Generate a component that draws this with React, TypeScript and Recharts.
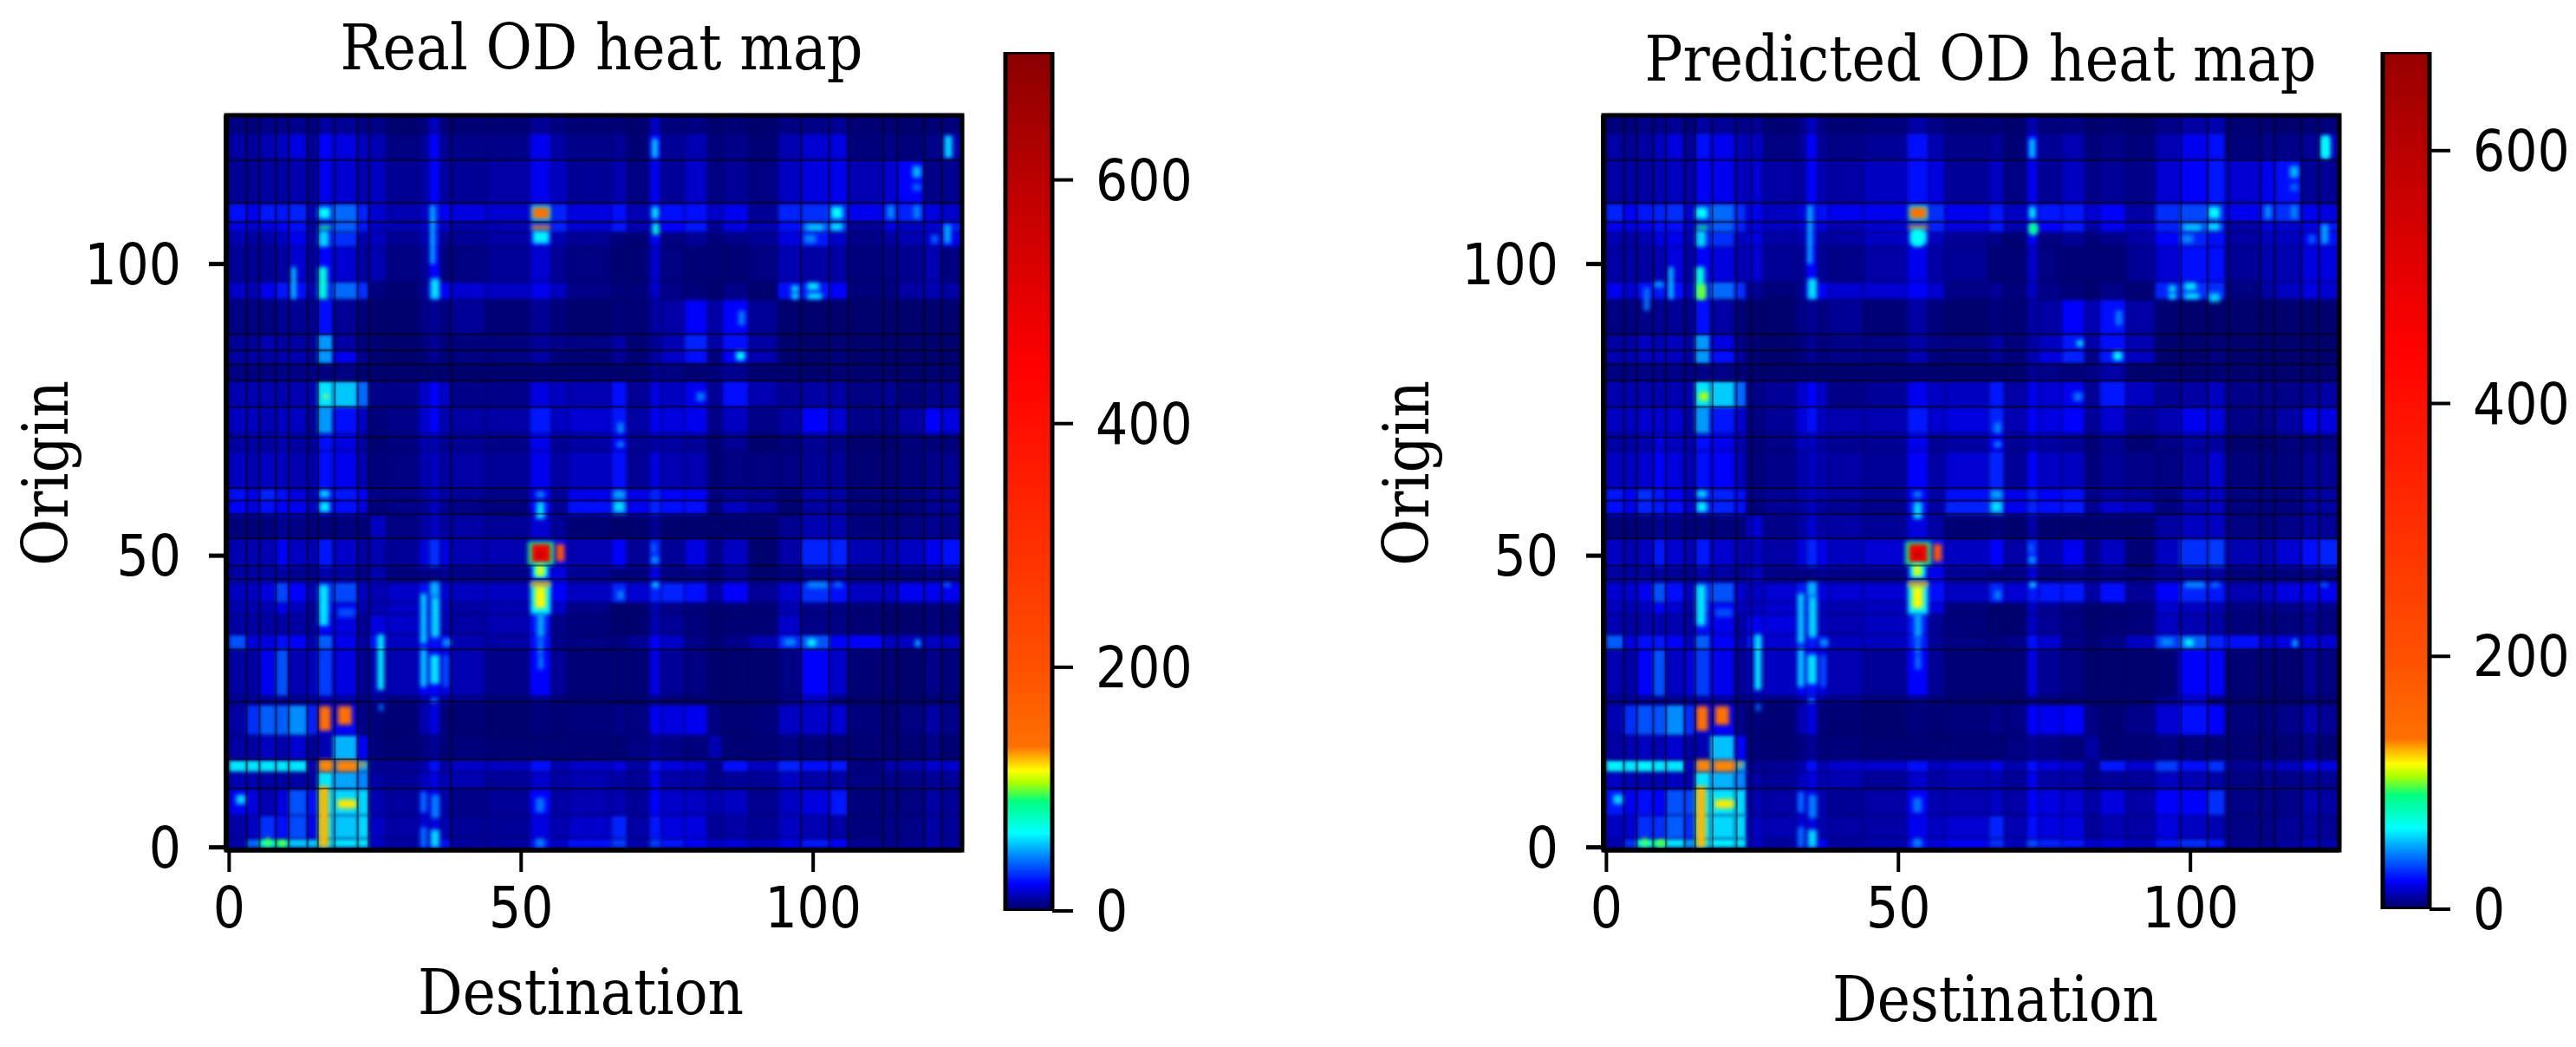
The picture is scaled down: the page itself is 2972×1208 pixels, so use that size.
import React from "react";
import { ComposedChart, BarChart, Bar, XAxis, YAxis, ReferenceArea, ReferenceLine } from "recharts";

const columnEdges = [0, 3, 5.2, 8, 10.2, 13.4, 15.2, 17.8, 22, 24, 27, 32.5, 34.2, 36.2, 38, 44, 51.5, 55.2, 58, 65.5, 68.2, 72, 74, 78, 82, 84.5, 89, 94, 98, 103, 106, 112, 114.5, 119, 122, 125.5];
const rowEdges = [0, 1.5, 5.5, 10, 13, 15, 19.3, 24.5, 26, 34, 36.5, 40, 42, 45.5, 48, 53, 57, 59.5, 61.5, 68, 71, 75.5, 80, 83, 85.2, 88, 94, 97, 103, 105.5, 107.3, 110.4, 118, 122.5, 125.5];

// one row per band, bottom to top
const realGrid = [
  [12,40,75,85,55,55,60,60,60,15,10,18,20,25,10,10,25,15,25,32,12,32,26,22,16,18,14,20,26,22,8,7,8,12,10],
  [10,14,30,25,35,20,60,55,58,14,10,16,18,12,8,8,18,12,15,28,10,26,18,18,8,10,8,14,12,10,4,6,6,10,8],
  [20,18,12,18,36,24,60,58,58,12,9,18,20,10,6,8,22,10,12,12,8,22,15,14,12,14,7,14,18,26,4,5,5,10,8],
  [12,12,10,10,10,10,60,50,45,10,8,14,18,12,12,8,15,10,12,10,8,20,10,10,6,8,8,14,10,10,5,6,6,8,8],
  [60,60,60,60,60,12,40,40,50,8,8,12,24,10,15,14,25,12,15,18,10,25,18,16,6,25,14,28,24,26,5,12,12,16,16],
  [10,10,14,12,16,8,12,52,22,4,3,5,8,4,4,3,3,3,3,3,5,8,6,4,12,3,3,5,4,3,3,3,3,6,3],
  [10,30,38,38,46,28,20,22,6,4,3,12,18,4,3,2,4,3,4,6,5,20,18,20,5,3,4,14,15,16,4,2,5,10,6],
  [8,8,8,8,8,8,12,10,5,8,5,10,18,8,6,3,6,3,3,2,2,6,3,2,2,2,2,6,14,5,2,2,2,3,3],
  [10,10,20,36,12,14,32,18,8,12,12,22,22,18,12,6,22,8,3,3,3,18,8,5,2,2,2,5,22,15,3,3,2,6,4],
  [36,18,18,25,22,12,38,20,10,24,14,26,24,24,12,10,25,6,5,5,8,22,15,6,3,6,12,28,36,22,22,14,14,14,14],
  [10,10,10,10,10,8,22,18,8,18,15,22,24,12,10,12,24,6,4,2,2,12,8,4,2,3,3,15,6,6,3,2,2,4,3],
  [12,12,12,20,14,8,26,20,12,12,15,22,24,14,10,12,30,15,6,2,2,12,6,4,2,3,3,12,6,6,3,2,2,4,3],
  [14,14,18,34,22,12,28,34,14,12,15,24,24,16,14,14,35,22,14,28,16,28,28,25,10,22,8,16,30,25,14,14,20,20,20],
  [10,10,10,10,8,6,12,10,6,12,4,6,6,8,6,6,22,18,8,4,4,18,5,5,3,8,2,4,8,10,4,4,4,6,6],
  [12,12,12,22,14,12,26,15,10,12,8,18,30,18,12,12,22,22,12,22,8,28,8,18,6,14,2,10,28,28,12,12,14,20,25],
  [4,4,4,8,6,4,4,4,4,14,5,10,14,10,10,8,16,8,3,2,2,8,2,2,2,2,2,7,12,12,4,4,5,7,6],
  [22,18,25,22,20,14,24,24,18,4,6,8,14,8,6,4,22,8,25,38,20,28,25,25,5,14,10,3,10,10,4,4,4,8,8],
  [25,20,28,24,18,12,24,26,22,6,6,10,15,10,8,6,20,8,20,36,20,28,22,22,5,8,7,3,12,10,4,4,4,8,8],
  [14,12,14,14,12,10,24,20,12,4,5,12,14,10,10,8,20,10,14,25,8,18,12,12,3,5,5,5,8,8,3,3,4,6,7],
  [10,10,10,12,10,8,24,18,10,3,5,12,12,8,8,6,20,8,10,22,8,10,10,8,3,8,2,4,8,6,2,2,4,4,4],
  [14,14,12,14,14,8,48,24,14,4,6,16,22,12,10,10,26,14,16,26,10,20,18,20,6,14,6,10,22,16,6,6,10,22,18],
  [12,12,12,12,12,12,60,55,40,6,6,15,22,15,6,6,18,14,12,25,8,18,14,20,8,25,12,8,10,10,5,8,4,6,7],
  [5,5,5,6,6,5,5,5,3,2,2,2,2,2,2,2,3,2,2,2,2,6,5,3,4,7,2,2,2,3,2,2,2,2,3],
  [10,10,10,12,12,8,48,20,8,3,2,3,8,4,5,5,10,4,3,8,3,10,15,25,4,22,12,2,2,5,2,2,2,2,2],
  [8,8,12,10,10,8,48,10,5,3,2,4,8,4,4,4,8,6,5,10,3,8,12,28,10,24,10,2,2,3,2,2,2,2,2],
  [5,5,5,8,8,6,24,8,4,2,2,6,8,5,8,3,8,4,2,4,3,10,10,22,10,22,8,2,2,2,2,2,2,2,2],
  [15,12,20,26,24,12,28,40,30,5,3,8,24,22,16,14,20,14,6,4,4,15,6,4,2,6,2,24,26,22,4,5,10,12,10],
  [8,8,8,10,16,8,22,16,10,12,5,8,22,5,5,8,16,8,5,3,3,15,5,3,3,3,5,12,10,10,4,6,7,12,5],
  [12,10,10,14,20,10,28,30,12,14,8,12,24,8,8,10,22,12,8,4,3,20,5,8,4,6,8,18,26,15,6,10,12,16,20],
  [18,16,18,22,24,10,28,38,26,14,12,15,26,15,10,12,30,28,16,26,12,24,22,26,8,18,12,25,34,30,8,18,14,16,26],
  [25,20,26,26,28,12,28,40,28,16,12,15,28,22,18,16,35,28,18,25,12,24,24,25,15,20,8,28,30,30,20,28,28,18,15],
  [8,8,10,10,12,8,20,16,12,14,8,10,22,10,8,10,20,14,8,12,5,20,8,15,5,8,5,14,18,20,12,16,22,6,7],
  [10,9,12,14,18,8,22,18,14,12,5,8,22,8,6,6,20,10,6,8,3,22,8,12,4,6,3,12,16,18,4,6,4,6,12],
  [5,4,6,6,7,4,10,8,6,6,2,4,14,4,3,3,8,5,3,3,2,14,4,5,2,3,2,5,6,8,3,3,2,3,4],
];

const predictedGrid = [
  [12,30,72,78,60,48,60,62,60,15,10,18,20,22,10,12,25,18,22,30,14,34,28,26,16,18,14,26,30,26,8,8,10,14,12],
  [14,16,30,30,38,30,62,58,58,14,12,16,18,12,10,10,20,14,16,28,12,24,18,18,8,12,10,18,14,12,6,6,8,10,8],
  [26,20,24,22,36,34,62,60,58,12,10,18,20,12,8,10,22,12,12,14,10,22,18,16,10,18,10,22,22,30,6,6,6,12,10],
  [14,12,12,12,14,12,60,52,45,10,8,14,18,12,12,8,15,10,12,12,8,20,10,10,6,8,8,14,12,10,5,6,6,8,8],
  [62,60,62,60,60,14,40,40,50,8,8,12,24,12,16,16,25,14,16,20,12,24,18,16,6,26,16,32,24,30,8,12,14,20,18],
  [10,12,14,12,16,10,12,54,22,4,3,5,8,4,4,3,3,3,3,3,5,8,6,4,10,3,3,5,4,3,3,3,3,6,3],
  [12,30,36,36,46,30,20,22,6,4,3,12,18,4,3,2,4,3,4,6,5,22,20,22,5,3,6,16,24,22,4,4,6,12,8],
  [8,8,8,8,8,8,12,10,5,8,5,10,18,8,6,3,6,3,3,2,2,6,3,2,2,2,2,8,16,5,2,2,2,4,3],
  [12,10,22,36,14,18,32,20,8,14,14,22,24,18,12,8,22,8,3,3,3,18,8,5,2,2,2,3,22,22,3,3,2,8,5],
  [38,18,24,26,22,14,38,22,12,26,16,28,26,24,14,14,26,8,5,5,6,24,16,6,3,6,14,32,38,28,24,16,18,18,16],
  [12,10,12,12,12,10,24,20,10,20,18,24,26,14,12,14,26,8,4,2,2,14,8,5,2,3,4,14,12,10,4,4,4,8,5],
  [14,12,14,22,16,10,28,22,14,14,16,24,26,14,12,14,30,18,4,2,2,14,8,5,2,3,4,16,14,12,5,6,6,10,6],
  [16,16,20,36,24,14,30,36,16,14,16,26,26,18,16,16,35,24,14,28,16,26,26,26,10,24,8,22,28,26,12,14,18,20,20],
  [10,10,10,10,8,6,12,10,8,14,6,6,6,8,6,6,24,20,8,6,6,16,5,6,4,6,4,8,10,10,4,4,4,6,6],
  [14,12,14,26,16,12,26,16,12,14,10,18,28,20,14,16,24,24,14,22,10,28,12,20,6,14,3,14,30,32,12,12,16,24,28],
  [4,4,4,8,6,4,4,4,4,16,6,10,16,10,10,8,18,10,3,4,2,10,2,2,2,2,2,10,14,14,5,4,6,10,8],
  [24,20,28,26,24,16,26,28,24,5,8,10,14,10,8,6,24,10,28,40,20,28,24,26,8,16,14,5,12,14,5,5,5,10,10],
  [26,22,30,26,22,14,26,28,24,6,8,12,14,12,10,8,22,10,24,36,20,28,22,24,6,10,8,5,14,14,5,5,5,10,10],
  [14,14,16,22,18,12,24,22,14,4,6,12,14,12,10,8,22,10,16,28,8,22,14,14,4,8,6,5,10,16,4,4,4,8,8],
  [10,10,12,18,14,10,24,20,12,4,6,14,14,10,8,8,20,8,10,22,8,12,10,8,3,8,3,6,10,10,2,2,4,5,6],
  [14,14,16,16,16,10,48,26,16,5,8,18,24,14,12,12,26,16,18,28,12,22,18,22,8,16,8,12,20,18,6,6,10,20,18],
  [12,12,12,12,12,12,60,56,40,6,8,16,22,15,6,8,20,14,14,26,10,20,16,20,8,26,14,8,10,14,6,6,6,8,10],
  [5,5,6,6,6,5,6,6,3,2,2,2,2,2,2,2,3,2,2,2,2,8,6,4,6,10,2,2,2,3,2,2,2,2,3],
  [12,12,14,14,14,10,48,24,10,3,2,4,8,4,6,5,12,4,4,8,4,12,18,28,6,26,14,2,2,5,2,2,2,2,2],
  [10,10,14,12,14,10,48,18,6,3,2,4,8,4,6,5,10,6,5,10,4,10,14,26,10,24,12,2,2,3,2,2,2,2,2],
  [5,5,6,8,8,6,24,10,4,2,2,6,8,5,8,3,10,4,2,4,3,10,10,22,12,24,10,3,2,2,2,2,2,2,2],
  [20,16,24,26,24,14,28,40,30,8,4,8,24,22,16,16,22,16,6,8,4,14,6,4,2,6,3,28,30,30,5,10,14,18,16],
  [10,10,10,12,18,10,22,18,12,16,8,8,22,8,6,10,20,10,8,3,3,15,5,3,3,3,8,16,24,24,8,12,12,18,18],
  [12,10,12,18,20,12,28,30,14,18,10,12,24,10,10,14,24,14,8,6,3,20,5,8,4,6,10,22,28,24,10,14,14,20,24],
  [20,18,20,24,24,14,28,38,28,18,14,16,26,18,12,16,30,28,18,26,12,24,22,26,10,20,14,28,36,30,10,18,16,18,26],
  [28,22,26,28,30,16,30,40,30,20,14,18,28,24,20,20,35,30,20,26,14,24,26,26,16,22,10,30,34,30,20,28,30,20,18],
  [10,10,10,12,14,10,22,20,14,16,10,10,22,12,10,14,24,18,8,14,5,20,8,14,6,8,6,16,22,26,16,20,24,8,8],
  [10,8,10,14,18,8,24,20,14,14,5,8,22,8,6,8,24,12,6,8,3,22,8,12,4,6,4,12,20,24,4,6,6,8,14],
  [4,4,6,6,8,4,10,8,6,8,3,6,14,5,3,4,10,6,3,3,2,12,4,5,2,3,2,6,10,12,3,3,2,3,4],
];

// small hot patches on top of the bands: x0, x1, y0, y1, value
const realSpots = [
  [32.8,33.8,0,3.5,42],[32.8,33.8,6,9.5,42],[34.5,36,0,3,58],[34.6,36,5,9,44],[52.5,54,0,1.5,44],[52.5,54,6,8.5,42],
  [32.8,33.8,27.5,34,58],[32.8,33.8,35,43.5,58],[34.4,36,28,33,60],[34.6,36,36,43,58],[34.6,35.6,24.8,25.6,45],[34.4,36,43,45.5,52],
  [36.6,37.6,27.5,33,36],[36.6,38,34.5,35.7,48],[52.7,54,36,40,50],[52.8,53.8,33,36,42],[15.4,17,38,45,60],[18.6,21.6,39.5,41,35],
  [15.4,17,103,105.7,58],[15.5,17.2,57.5,59.2,62],[15.5,17.2,60,61.2,58],[52.6,54,56.3,59.2,58],[52.6,54,60,61,46],
  [52,54.8,103.5,105.7,62],[51.9,55,107.5,110,55],[51.7,55,40,45.5,62],
  [51.2,55.6,48.4,52.4,90],[51.8,55,48.8,52,470],[52.9,53.7,49.6,50.8,620],[56,57.4,49,52,190],
  [52,54.6,46.2,48.6,65],[52.6,53.9,46.5,48.4,112],[51.7,55,44.7,45.5,132],[52.4,54.2,41,44.7,116],
  [52.9,53.8,30.5,32.9,44],[52,54.8,107.8,109.7,135],[51.8,55,106,106.6,130],
  [15.4,17,0,10.5,125],[15.4,17.4,20,24.2,135],[18.6,21,21,24.2,135],[15.4,17.8,13,15,132],[18.4,22,13,14.9,132],
  [22.4,23.3,13.8,14.6,130],[18.6,21.8,6.7,8.2,118],[1.2,2.8,7.4,9,58],[6.2,7,0.2,1.6,98],[8.8,9.4,0.2,1.2,105],
  [25.4,26.5,27,36.5,62],[25.6,26.4,23.4,24.6,40],[15.4,17.4,106,106.6,92],[15.3,17.3,107.8,109.7,64],
  [10.7,11.4,94,99.5,60],[15.3,16.8,94,99.5,72],[16.2,16.9,77,77.6,112],[34.5,35.2,100,110,56],[34.5,36,94,97.5,60],
  [72.4,73.4,118.2,121.5,56],[72.4,73.5,107.8,109.8,62],[72.5,73.6,105,107,76],[103.1,105,107.8,109.8,64],
  [103,105,105.8,107,60],[98.8,101.8,105.8,106.8,56],[98.5,100.5,103.6,105,45],[112.8,113.8,107.8,110,48],
  [117.2,118.3,107.8,110,45],[117,118.5,114.8,116.8,52],[117,118.5,112.5,113.8,38],[122.5,123.8,118.2,122,58],
  [122.4,123.6,103.5,106.8,50],[120.2,121.4,103.5,105,38],[96.3,97.5,95.2,96.3,60],[96.3,97.5,94,95,60],
  [99,101,95.5,96.8,60],[99,101.5,94,95,60],[86.8,88.3,83.5,85,64],[87.2,88.3,89.5,92,44],[66.5,67.5,71,72.8,46],
  [66.4,67.6,68.6,69.6,46],[66,67.6,57.6,59.2,60],[66,67.6,60,61,52],[72.4,73.4,48.8,49.8,52],[72.4,73,50.5,52,42],
  [72.5,73.5,44.6,45.4,64],[66.5,67.5,42.5,44,46],[99,100.5,34.5,35.7,64],[95,97,34.6,35.8,46],[117.5,118.3,34.4,35.6,56],
  [122.3,123.5,44.7,45.3,44],[99,102.5,44.5,45.5,46],[103.5,105,44.6,45.4,42],[80,81.5,76.5,78,42],
];

const predictedExtraSpots = [
  [15.6,17,94,96.5,100],[16,17.4,76.6,78,105],[122.4,123.8,118.2,121.8,66],[80.6,81.6,85.9,86.9,64],[72.4,73.8,105.4,106.8,88],
  [103.2,105,93.5,95,56],[6.4,7.4,92,96,42],[8.2,9.8,96,97,48],[52.4,54.2,103,106,66],[9,10.2,0.2,1.2,96],
];
const predictedSpots = [...realSpots, ...predictedExtraSpots];

const realDarkRows = [117.8, 110.5, 107.2, 88, 85.2, 82.8, 80, 75.5, 70.3, 61.6, 59.4, 57.2, 53, 48.3, 46, 33.9, 25, 15.1, 10.1];
const realDarkCols = [3, 5.2, 8, 10.2, 13.4, 15.2, 18.1, 22, 23.9, 38, 97.9, 102.7, 106, 112, 114.4, 119, 122];
const predictedDarkRows = [117.8, 110.5, 107.2, 88, 85.2, 82.8, 80, 75.5, 70.3, 61.6, 59.4, 57.2, 53, 48.3, 46, 33.9, 25, 10.1];
const predictedDarkCols = [3, 5.2, 8, 10.2, 13.4, 15.2, 18.2, 22.3, 24.8, 98.4, 102.9, 106.6, 112, 114.4, 119, 122];

const axisTicks = [0, 50, 100];
const barTicks = [0, 200, 400, 600];
const realMax = 705;
const predictedMax = 678;

// value -> colour stops
const stopValues = [0, 10, 22, 44, 64, 90, 105, 115, 135, 200, 445, 705];
const stopColors = ["#000060", "#0000a4", "#0000ff", "#0080ff", "#00ffff", "#00ff80", "#aaff00", "#ffff00", "#ff7000", "#ff5000", "#ff0000", "#8b0000"];

const hexToRgb = (h: string) => [1, 3, 5].map((i) => parseInt(h.slice(i, i + 2), 16));

function colorOf(v: number) {
  let i = 0;
  while (i < stopValues.length - 2 && v > stopValues[i + 1]) i++;
  const t = Math.min(1, Math.max(0, (v - stopValues[i]) / (stopValues[i + 1] - stopValues[i])));
  const a = hexToRgb(stopColors[i]);
  const b = hexToRgb(stopColors[i + 1]);
  return `rgb(${a.map((c, k) => Math.round(c + (b[k] - c) * t)).join(",")})`;
}

const softCell = (p: any) => <rect x={p.x} y={p.y} width={p.width} height={p.height} fill={p.fill} filter="url(#softCell)" />;
const softSpot = (p: any) => <rect x={p.x} y={p.y} width={p.width} height={p.height} fill={p.fill} filter="url(#softSpot)" />;

const digitFont = '"DejaVu Sans Condensed", "DejaVu Sans", sans-serif';
const serifFont = '"DejaVu Serif Condensed", "DejaVu Serif", serif';
const tickStyle = { fontSize: 65, fontFamily: digitFont, fontStretch: "condensed", fill: "#000" };

function HeatMap({ grid, spots, darkRows, darkCols, left, plotLeft, plotRight, title, titleX, titleY, titleLen, xLabelX, xLabelY, yLabelX }: any) {
  const width = 1300;
  const cells = grid.flatMap((row: number[], r: number) =>
    row.map((v: number, c: number) => ({ x1: columnEdges[c], x2: columnEdges[c + 1], y1: rowEdges[r], y2: rowEdges[r + 1], v }))
  );
  return (
    <div style={{ position: "absolute", left, top: 0 }}>
      <ComposedChart width={width} height={1208} margin={{ top: 133, right: width - (plotRight - left), bottom: 0, left: 0 }}>
        <XAxis
          type="number"
          dataKey="x"
          domain={[-0.5, 125.5]}
          ticks={axisTicks}
          height={227}
          allowDataOverflow
          tick={tickStyle}
          tickSize={25}
          tickMargin={18}
          interval={0}
          axisLine={{ stroke: "#000", strokeWidth: 5 }}
          tickLine={{ stroke: "#000", strokeWidth: 4 }}
        />
        <YAxis
          type="number"
          dataKey="y"
          domain={[-0.5, 125.5]}
          ticks={axisTicks}
          width={plotLeft - left}
          allowDataOverflow
          tick={tickStyle}
          tickSize={20}
          tickMargin={32}
          interval={0}
          axisLine={{ stroke: "#000", strokeWidth: 6 }}
          tickLine={{ stroke: "#000", strokeWidth: 5 }}
        />
        <ReferenceArea x1={-0.5} x2={125.5} y1={-0.5} y2={125.5} fill="#000060" fillOpacity={1} stroke="none" ifOverflow="visible" />
        {cells.map((c: any, i: number) => (
          <ReferenceArea key={i} x1={c.x1} x2={c.x2} y1={c.y1} y2={c.y2} fill={colorOf(c.v)} fillOpacity={1} ifOverflow="visible" shape={softCell} />
        ))}
        {darkRows.map((y: number) => (
          <ReferenceLine key={"r" + y} y={y} stroke="#000" strokeOpacity={0.5} strokeWidth={2} ifOverflow="visible" />
        ))}
        {darkCols.map((x: number) => (
          <ReferenceLine key={"c" + x} x={x} stroke="#000" strokeOpacity={0.5} strokeWidth={2} ifOverflow="visible" />
        ))}
        {spots.map((s: number[], i: number) => (
          <ReferenceArea key={"s" + i} x1={s[0]} x2={s[1]} y1={s[2]} y2={s[3]} fill={colorOf(s[4])} fillOpacity={1} ifOverflow="visible" shape={softSpot} />
        ))}
        <ReferenceArea x1={-0.5} x2={125.5} y1={-0.5} y2={125.5} fill="none" stroke="#000" strokeWidth={5} ifOverflow="visible" />
        <text x={titleX - left} y={titleY} textAnchor="middle" fontFamily={serifFont} fontSize={72} textLength={titleLen} lengthAdjust="spacingAndGlyphs">{title}</text>
        <text x={xLabelX - left} y={xLabelY} textAnchor="middle" fontFamily={serifFont} fontSize={72} textLength={376} lengthAdjust="spacingAndGlyphs">Destination</text>
        <text x={0} y={0} transform={`translate(${yLabelX - left} 546) rotate(-90)`} textAnchor="middle" fontFamily={serifFont} fontSize={72} textLength={214} lengthAdjust="spacingAndGlyphs">Origin</text>
      </ComposedChart>
    </div>
  );
}

function ColorBar({ left, bottom, vmax, gradientId }: any) {
  const barData = [{ name: "bar", top: vmax }];
  return (
    <div style={{ position: "absolute", left: left - 60, top: 0 }}>
      <BarChart width={300} height={1208} data={barData} barCategoryGap={0} margin={{ top: 60, right: 0, bottom: 1208 - bottom, left: 60 }}>
        <XAxis dataKey="name" hide />
        <YAxis
          orientation="right"
          type="number"
          domain={[0, vmax]}
          ticks={barTicks}
          width={186}
          allowDataOverflow
          tick={tickStyle}
          tickSize={24}
          tickMargin={26}
          interval={0}
          axisLine={false}
          tickLine={{ stroke: "#000", strokeWidth: 4 }}
        />
        <Bar dataKey="top" fill={`url(#${gradientId})`} stroke="#000" strokeWidth={5} isAnimationActive={false} />
      </BarChart>
    </div>
  );
}

// the gradient runs top to bottom, so the stops go from vmax down to 0
const gradientStops = (vmax: number) =>
  [vmax, ...stopValues.filter((v) => v < vmax).reverse()].map((v) => (
    <stop key={v} offset={1 - v / vmax} stopColor={colorOf(v)} />
  ));

export default function App() {
  return (
    <div style={{ position: "absolute", left: 0, top: 0, width: 2972, height: 1208, background: "#fff", overflow: "hidden" }}>
      <svg width={0} height={0} style={{ position: "absolute" }}>
        <defs>
          <filter id="softCell" x="-60%" y="-60%" width="220%" height="220%">
            <feGaussianBlur stdDeviation="2.2" />
          </filter>
          <filter id="softSpot" x="-150%" y="-150%" width="400%" height="400%">
            <feGaussianBlur stdDeviation="2.4" />
          </filter>
          <linearGradient id="realBar" x1="0" y1="0" x2="0" y2="1">{gradientStops(realMax)}</linearGradient>
          <linearGradient id="predictedBar" x1="0" y1="0" x2="0" y2="1">{gradientStops(predictedMax)}</linearGradient>
        </defs>
      </svg>
      <HeatMap grid={realGrid} spots={realSpots} darkRows={realDarkRows} darkCols={realDarkCols} left={0} plotLeft={261} plotRight={1110}
        title="Real OD heat map" titleX={694} titleY={80} titleLen={603} xLabelX={670} xLabelY={1170} yLabelX={78} />
      <HeatMap grid={predictedGrid} spots={predictedSpots} darkRows={predictedDarkRows} darkCols={predictedDarkCols} left={1580} plotLeft={1850} plotRight={2699}
        title="Predicted OD heat map" titleX={2285} titleY={93} titleLen={775} xLabelX={2302} xLabelY={1178} yLabelX={1648} />
      <ColorBar left={1160} bottom={1051} vmax={realMax} gradientId="realBar" />
      <ColorBar left={2749} bottom={1049} vmax={predictedMax} gradientId="predictedBar" />
    </div>
  );
}
